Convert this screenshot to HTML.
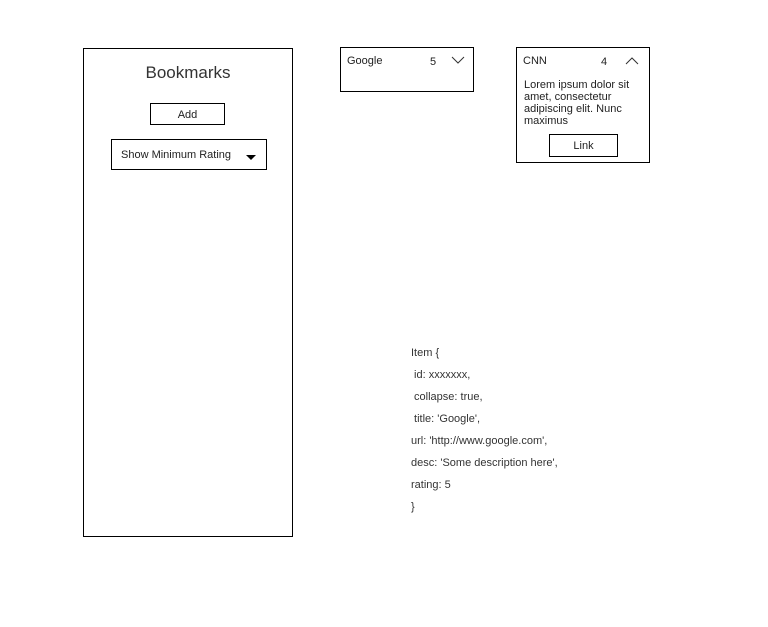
<!DOCTYPE html>
<html><head><style>
body{margin:0;width:768px;height:627px;background:#fff;position:relative;font-family:"Liberation Sans",sans-serif;color:#222;overflow:hidden}
.a{position:absolute}
.box{position:absolute;border:1px solid #000;box-sizing:border-box}
.t{position:absolute;font-size:11px;white-space:nowrap}
</style></head><body>
<div class="box" style="left:83px;top:48px;width:210px;height:489px"></div>
<div class="t" style="left:83px;width:210px;text-align:center;top:63px;font-size:17px;color:#333">Bookmarks</div>
<div class="box" style="left:150px;top:103px;width:75px;height:22px"></div>
<div class="t" style="left:150px;width:75px;text-align:center;top:109px;font-size:11px">Add</div>
<div class="box" style="left:111px;top:139px;width:156px;height:31px"></div>
<div class="t" style="left:121px;top:149px;font-size:11px">Show Minimum Rating</div>
<div class="a" style="left:246px;top:155px;width:0;height:0;border-left:5px solid transparent;border-right:5px solid transparent;border-top:5px solid #000"></div>

<div class="box" style="left:340px;top:47px;width:134px;height:45px"></div>
<div class="t" style="left:347px;top:55px;font-size:11px">Google</div>
<div class="t" style="left:430px;top:56px;font-size:11px">5</div>
<svg class="a" style="left:451px;top:56px" width="14" height="9"><polyline points="1,1 7,7 13,1" fill="none" stroke="#333" stroke-width="1"/></svg>

<div class="box" style="left:516px;top:47px;width:134px;height:116px"></div>
<div class="t" style="left:523px;top:55px;font-size:11px">CNN</div>
<div class="t" style="left:601px;top:56px;font-size:11px">4</div>
<svg class="a" style="left:625px;top:56px" width="14" height="9"><polyline points="1,8 7,2 13,8" fill="none" stroke="#333" stroke-width="1"/></svg>
<div class="a" style="left:524px;top:79px;font-size:11px;line-height:12px;width:122px">Lorem ipsum dolor sit amet, consectetur adipiscing elit. Nunc maximus</div>
<div class="box" style="left:549px;top:134px;width:69px;height:23px"></div>
<div class="t" style="left:549px;width:69px;text-align:center;top:140px;font-size:11px">Link</div>

<div class="a" style="left:411px;top:342px;font-size:11px;line-height:22px;color:#333;white-space:pre">Item {
 id: xxxxxxx,
 collapse: true,
 title: 'Google',
url: 'http://www.google.com',
desc: 'Some description here',
rating: 5
}</div>
</body></html>
